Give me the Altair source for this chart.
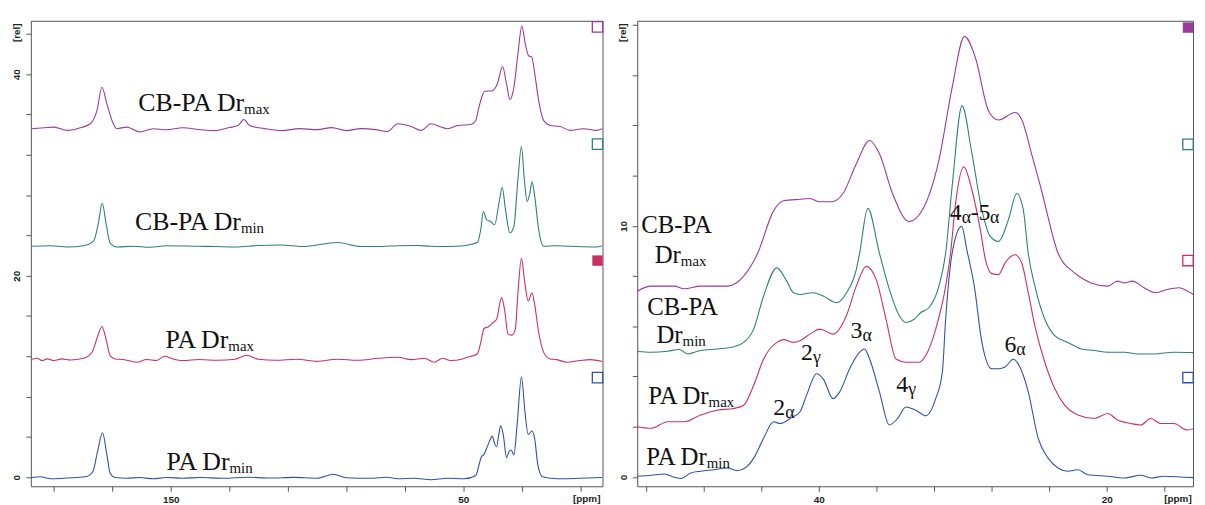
import altair as alt
import pandas as pd

SERIES = ["CB-PA Drmax", "CB-PA Drmin", "PA Drmax", "PA Drmin"]
COLORS = ["#9b3a9b", "#2f8078", "#cc3060", "#2f52a8"]

# ---------------- left panel (full spectrum) : (ppm, intensity) ----------------
LEFT_CBPA_MAX = [
    (197.6, 34.59), (193.3, 34.68), (189.9, 34.75), (185.4, 34.42), (180.9, 34.68), (177.5, 35.08),
    (175.2, 36.39), (173.5, 38.70), (171.8, 37.05), (169.6, 35.08), (168.4, 34.59), (165.0, 34.75),
    (160.5, 34.26), (156.0, 34.59), (151.5, 34.49), (145.8, 34.68), (140.2, 34.49), (135, 34.4),
    (130, 34.7), (127, 34.9), (125, 35.5), (123, 34.9), (118, 34.6), (112, 34.4), (106, 34.6),
    (100, 34.5), (95, 34.7), (90, 34.4), (85, 34.6), (80, 34.5), (76, 34.3), (72.3, 35.08),
    (67.8, 34.81), (64.4, 34.42), (61.0, 35.08), (57.6, 34.75), (55.3, 34.59), (51.9, 34.91),
    (47.4, 35.01), (45.7, 35.40), (45.15, 36.07), (44.03, 37.38), (42.67, 38.30), (40.06, 38.36),
    (38.36, 39.03), (36.56, 40.77), (35.20, 39.03), (34.05, 37.48), (32.69, 38.70), (31.33, 41.98),
    (29.98, 44.77), (28.76, 42.97), (27.60, 41.81), (26.58, 41.72), (25.70, 40.34), (24.21, 37.38),
    (22.51, 35.40), (20.27, 34.91), (16.88, 34.81), (13.49, 34.42), (8.94, 34.59), (4.43, 34.42),
    (2.5, 34.59),
]
LEFT_CBPA_MIN = [
    (197.6, 22.92), (191.1, 22.98), (185.4, 22.85), (179.8, 22.98), (176.4, 23.41), (174.7, 25.22),
    (173.4, 27.19), (172.1, 25.22), (170.7, 23.25), (168.4, 22.85), (162.8, 22.92), (157.1, 22.82),
    (151.5, 22.98), (140.2, 22.92), (135, 22.9), (128, 22.85), (120, 23.0), (112, 23.05), (105, 22.9),
    (93, 23.3), (85, 22.9), (78, 22.9), (72.3, 22.98), (66, 23.0), (61.0, 22.92), (55, 22.9),
    (49.7, 22.98), (45.15, 23.31), (44.03, 24.55), (43.12, 26.37), (41.99, 25.54), (40.63, 25.38),
    (39.28, 25.05), (37.80, 27.19), (36.67, 28.74), (35.55, 26.54), (34.05, 24.24), (32.69, 24.90),
    (31.33, 29.48), (30.11, 32.83), (29.09, 29.48), (28.17, 27.35), (27.25, 28.17), (26.47, 29.32),
    (25.56, 27.84), (24.21, 24.55), (22.51, 22.92), (19.12, 22.98), (13.49, 22.92), (4.43, 22.85),
    (2.5, 22.98),
]
LEFT_PA_MAX = [
    (197.6, 11.68), (195.6, 11.80), (193.9, 11.58), (192.2, 11.74), (189.9, 11.58), (187.1, 11.74),
    (184.3, 11.64), (179.8, 11.80), (176.9, 12.40), (174.9, 14.04), (173.5, 14.96), (172.1, 13.71),
    (170.7, 12.07), (169.0, 11.74), (166.2, 11.68), (161.6, 11.41), (158.2, 11.68), (154.9, 11.58),
    (152.0, 12.00), (149.2, 11.74), (145.8, 11.58), (140.2, 11.68), (134, 11.6), (128, 11.7),
    (124, 12.1), (120, 11.7), (114, 11.6), (107, 11.7), (100, 11.5), (93, 11.7), (86, 11.6),
    (79, 11.8), (72.3, 11.90), (67.8, 11.67), (63.3, 11.80), (59.9, 11.41), (57.1, 11.80),
    (54.3, 11.58), (50.3, 11.74), (48.6, 11.90), (45.2, 12.23), (44.0, 13.38), (42.9, 14.76),
    (41.2, 14.96), (39.8, 15.35), (38.6, 15.68), (36.9, 17.82), (35.9, 16.67), (34.7, 14.20),
    (33.3, 14.10), (32.2, 14.69), (31.3, 18.31), (30.1, 21.76), (29.1, 19.62), (27.8, 17.49),
    (26.5, 18.31), (25.7, 17.32), (24.2, 14.36), (22.5, 12.39), (20.3, 11.74), (18.0, 11.67),
    (14.6, 11.41), (10.1, 11.58), (6.7, 11.67), (2.5, 11.48),
]
LEFT_PA_MIN = [
    (197.6, -0.03), (194.5, 0.04), (191.1, -0.16), (186.6, -0.10), (182.1, -0.03), (178.7, 0.07),
    (176.6, 0.56), (175.0, 2.53), (173.3, 4.41), (171.8, 2.21), (170.7, 0.39), (169.0, -0.03),
    (165.0, -0.10), (160.5, -0.03), (156.0, -0.16), (151.5, -0.03), (145.8, -0.10), (140.2, -0.03),
    (132, -0.1), (124, 0.0), (116, -0.08), (108, -0.02), (100, -0.1), (94.4, 0.3), (90, -0.05),
    (82, -0.1), (76, 0.0), (72.3, -0.16), (66.7, -0.10), (61.0, -0.26), (55.4, -0.10), (49.7, -0.16),
    (45.7, 0.17), (44.6, 1.22), (43.8, 2.04), (42.9, 2.27), (41.8, 3.03), (40.6, 3.85), (40.1, 4.08),
    (39.3, 3.35), (38.6, 3.03), (37.8, 4.34), (37.2, 5.10), (36.3, 4.18), (35.2, 1.94), (34.4, 2.53),
    (33.6, 2.70), (32.7, 2.20), (31.6, 5.16), (30.1, 9.93), (28.9, 6.48), (27.8, 4.24), (26.5, 4.58),
    (25.6, 3.85), (24.5, 1.22), (23.0, 0.07), (20.3, -0.10), (15.7, -0.16), (10.1, -0.10), (2.5, -0.03),
]

# ---------------- right panel (aliphatic region) ----------------
RIGHT_CBPA_MAX = [
    (52.62, 7.4), (51.66, 7.6), (50.05, 7.6), (49.36, 7.5), (48.21, 7.6), (46.37, 7.6), (45.22, 8.0),
    (44.26, 8.9), (43.15, 10.6), (42.46, 11.0), (41.31, 11.06), (40.62, 11.09), (39.93, 10.96),
    (39.12, 10.96), (38.32, 11.29), (37.40, 12.47), (36.48, 13.40), (35.79, 12.87), (34.88, 11.29),
    (33.73, 10.17), (32.81, 10.63), (31.66, 12.61), (30.74, 15.51), (29.88, 17.55), (29.12, 16.70),
    (28.21, 14.58), (27.52, 14.22), (26.37, 14.52), (25.91, 14.25), (25.22, 12.87), (24.53, 11.42),
    (23.61, 9.32), (23.38, 8.91), (22.23, 8.13), (21.08, 7.73), (19.93, 7.60), (19.24, 7.80),
    (18.78, 7.73), (18.21, 7.80), (17.40, 7.54), (16.60, 7.34), (15.79, 7.47), (14.99, 7.54),
    (14.18, 7.34), (13.39, 7.01),
]
RIGHT_CBPA_MIN = [
    (52.62, 5.00), (51.66, 4.97), (50.50, 5.01), (49.70, 5.08), (49.12, 4.90), (48.21, 5.04),
    (47.06, 5.10), (45.91, 5.19), (45.22, 5.36), (44.53, 5.89), (43.84, 7.21), (42.92, 8.33),
    (42.23, 7.80), (41.77, 7.34), (41.31, 7.27), (40.39, 7.34), (39.70, 7.21), (38.77, 6.94),
    (38.08, 7.34), (37.40, 8.26), (37.17, 8.91), (36.60, 10.70), (35.79, 8.91), (35.10, 7.47),
    (34.41, 6.42), (33.95, 6.15), (33.38, 6.28), (32.92, 6.55), (32.34, 6.75), (31.66, 7.60),
    (31.19, 8.91), (30.74, 11.56), (30.05, 14.78), (29.36, 12.87), (28.67, 10.63), (28.09, 9.58),
    (27.52, 9.38), (26.83, 10.24), (26.25, 11.29), (25.79, 10.63), (25.45, 8.91), (24.99, 7.60),
    (24.30, 6.28), (23.61, 5.63), (22.69, 5.36), (21.77, 5.10), (20.86, 5.04), (19.93, 4.97),
    (18.78, 4.97), (17.86, 4.90), (16.71, 4.90), (15.34, 4.97), (13.39, 4.94),
]
RIGHT_PA_MAX = [
    (52.62, 2.00), (51.66, 1.94), (50.50, 2.20), (49.36, 2.20), (48.21, 2.47), (47.06, 2.66),
    (45.91, 2.73), (45.22, 2.86), (44.53, 3.65), (43.84, 4.70), (42.92, 5.36), (42.46, 5.47),
    (41.77, 5.36), (41.31, 5.43), (40.62, 5.69), (39.93, 5.89), (39.01, 5.69), (38.09, 6.42),
    (37.40, 7.60), (36.71, 8.39), (36.02, 7.87), (35.33, 6.28), (34.64, 4.70), (33.95, 4.57),
    (33.04, 4.57), (32.57, 4.84), (31.88, 5.89), (31.19, 7.60), (30.85, 8.91), (30.50, 10.90),
    (29.93, 12.35), (29.36, 11.42), (28.78, 9.84), (28.44, 8.70), (27.98, 8.10), (27.52, 8.06),
    (27.06, 8.53), (26.37, 8.85), (25.91, 8.53), (25.45, 7.34), (24.99, 6.02), (24.30, 4.57),
    (23.61, 3.52), (22.92, 2.86), (22.00, 2.47), (20.86, 2.33), (19.93, 2.53), (19.24, 2.27),
    (18.32, 2.13), (17.63, 2.07), (16.94, 2.33), (16.25, 2.13), (15.33, 2.13), (14.41, 1.87),
    (13.39, 2.07),
]
RIGHT_PA_MIN = [
    (52.62, 0.03), (51.66, 0.07), (50.74, 0.12), (50.05, -0.01), (49.59, -0.06), (48.90, 0.16),
    (48.21, 0.23), (47.29, 0.29), (46.37, 0.36), (45.68, 0.25), (44.99, 0.42), (44.53, 0.75),
    (43.84, 1.54), (43.15, 2.20), (42.69, 2.13), (42.00, 2.33), (41.31, 2.60), (40.85, 3.26),
    (40.16, 4.11), (39.70, 3.91), (39.01, 3.12), (38.55, 3.39), (37.86, 4.31), (37.17, 4.97),
    (36.83, 5.10), (36.48, 4.71), (35.79, 3.39), (35.10, 2.07), (34.53, 2.33), (33.95, 2.79),
    (33.26, 2.66), (32.57, 2.44), (31.88, 3.12), (31.42, 4.18), (31.19, 6.28), (30.74, 8.91),
    (30.08, 9.98), (29.70, 9.00), (29.20, 7.60), (28.67, 5.36), (27.98, 4.31), (27.52, 4.31),
    (27.06, 4.38), (26.49, 4.69), (26.03, 4.38), (25.45, 3.39), (24.76, 1.54), (24.07, 0.75),
    (23.38, 0.36), (22.69, 0.23), (22.00, 0.29), (21.31, 0.09), (19.93, 0.03), (18.78, -0.04),
    (17.63, 0.07), (16.94, -0.04), (16.02, 0.03), (14.64, -0.01), (13.39, -0.04),
]

# spectrum-legend squares at the right edge: (series, ppm, intensity, filled)
LEFT_SQUARES = [("CB-PA Drmax", 4.1, 44.7, False), ("CB-PA Drmin", 4.1, 33.06, False),
                ("PA Drmax", 4.1, 21.5, True), ("PA Drmin", 4.1, 9.88, False)]
RIGHT_SQUARES = [("CB-PA Drmax", 14.35, 17.9, True), ("CB-PA Drmin", 14.35, 13.25, False),
                 ("PA Drmax", 14.35, 8.62, False), ("PA Drmin", 14.35, 3.96, False)]

# annotations (text, ppm, intensity)
LEFT_MAIN = [("CB-PA Dr", 124.9, 36.36), ("CB-PA Dr", 126.0, 24.56),
             ("PA Dr", 130.3, 12.79), ("PA Dr", 129.9, 0.76)]
LEFT_SUB = [("max", 124.9, 36.36), ("min", 126.0, 24.56),
            ("max", 130.3, 12.79), ("min", 129.9, 0.76)]
RIGHT_MAIN_LEFTALIGN = [("CB-PA", 52.34, 9.71), ("CB-PA", 51.93, 6.46)]
RIGHT_MAIN_RIGHTALIGN = [("Dr", 49.59, 8.53), ("Dr", 49.47, 5.34),
                         ("PA Dr", 47.66, 2.92), ("PA Dr", 47.79, 0.49)]
RIGHT_SUB = [("max", 49.59, 8.53), ("min", 49.47, 5.34),
             ("max", 47.66, 2.92), ("min", 47.79, 0.49)]
PEAK_MAIN_RIGHTALIGN = [("2", 42.34, 2.47), ("2", 40.41, 4.65), ("3", 36.97, 5.52),
                        ("4", 33.79, 3.39), ("4", 30.07, 10.23), ("6", 26.28, 4.97)]
PEAK_MAIN_LEFTALIGN = [("-5", 29.45, 10.23)]
PEAK_SUB = [("α", 42.34, 2.47), ("γ", 40.41, 4.65), ("α", 36.97, 5.52), ("γ", 33.79, 3.39),
            ("α", 30.07, 10.23), ("α", 28.10, 10.23), ("α", 26.28, 4.97)]

LEFT_XTICKS = list(range(10, 200, 10))
LEFT_YTICKS = list(range(0, 46, 2))
RIGHT_XTICKS = list(range(16, 54, 2))
RIGHT_YTICKS = list(range(0, 19, 1))

SERIF = "Liberation Serif"
SANS = "Liberation Sans"


def spectra_frame(lists):
    rows = []
    for name, pts in zip(SERIES, lists):
        for p, v in pts:
            rows.append({"series": name, "ppm": p, "value": v})
    return pd.DataFrame(rows)


def text_frame(items):
    return pd.DataFrame([{"t": t, "ppm": p, "value": v} for t, p, v in items])


def panel(spec_lists, squares, xdom, ydom, xticks, yticks, xlab_expr, ylab_expr,
          ppm_label_x, width, height, texts):
    xscale = alt.Scale(domain=xdom, reverse=True, nice=False, zero=False)
    yscale = alt.Scale(domain=ydom, nice=False, zero=False)
    x = alt.X("ppm:Q", scale=xscale,
              axis=alt.Axis(values=xticks, labelExpr=xlab_expr, title=None, grid=False,
                            domain=False, tickSize=5, tickColor="#555", labelPadding=3,
                            labelFont=SANS, labelFontWeight="bold", labelFontSize=10,
                            labelColor="#222"))
    y = alt.Y("value:Q", scale=yscale,
              axis=alt.Axis(values=yticks, labelExpr=ylab_expr, title=None, grid=False,
                            domain=False, tickSize=5, tickColor="#555", labelPadding=4,
                            labelAngle=270, labelAlign="center", labelBaseline="bottom",
                            labelFont=SANS, labelFontWeight="bold",
                            labelFontSize=10, labelColor="#222"))
    color = alt.Color("series:N", scale=alt.Scale(domain=SERIES, range=COLORS), legend=None)

    lines = alt.Chart(spectra_frame(spec_lists)).mark_line(
        strokeWidth=1.1, interpolate="monotone", clip=True
    ).encode(x=x, y=y, color=color, detail="series:N")

    sq = pd.DataFrame([{"series": s, "ppm": p, "value": v, "filled": f} for s, p, v, f in squares])
    sq_open = alt.Chart(sq[~sq["filled"]]).mark_point(
        shape="square", size=110, filled=False, strokeWidth=1.3, opacity=1
    ).encode(x="ppm:Q", y="value:Q", color=color)
    sq_fill = alt.Chart(sq[sq["filled"]]).mark_point(
        shape="square", size=110, filled=True, opacity=1
    ).encode(x="ppm:Q", y="value:Q", color=color)

    ppm_lbl = alt.Chart(pd.DataFrame({"ppm": [ppm_label_x], "t": ["[ppm]"]})).mark_text(
        font=SANS, fontWeight="bold", fontSize=10, baseline="middle", color="#222"
    ).encode(x="ppm:Q", y=alt.value(height + 13), text="t:N")

    rel_lbl = alt.Chart(pd.DataFrame({"t": ["[rel]"]})).mark_text(
        font=SANS, fontWeight="bold", fontSize=10, baseline="middle", align="center",
        angle=270, color="#222"
    ).encode(x=alt.value(-14), y=alt.value(12), text="t:N")

    layers = [lines, sq_open, sq_fill, ppm_lbl, rel_lbl]
    for items, align, size, dy in texts:
        layers.append(
            alt.Chart(text_frame(items)).mark_text(
                align=align, baseline="alphabetic", font=SERIF, fontSize=size,
                color="#111", dy=dy
            ).encode(x="ppm:Q", y="value:Q", text="t:N")
        )
    return alt.layer(*layers).properties(width=width, height=height)


left = panel(
    [LEFT_CBPA_MAX, LEFT_CBPA_MIN, LEFT_PA_MAX, LEFT_PA_MIN], LEFT_SQUARES,
    [2.4, 197.8], [-0.9, 45.3], LEFT_XTICKS, LEFT_YTICKS,
    "datum.value % 50 == 0 ? datum.label : ''",
    "datum.value % 10 == 0 ? datum.label : ''",
    7.8, 576, 469,
    [(LEFT_MAIN, "right", 26, 0), (LEFT_SUB, "left", 15, 3)],
)

right = panel(
    [RIGHT_CBPA_MAX, RIGHT_CBPA_MIN, RIGHT_PA_MAX, RIGHT_PA_MIN], RIGHT_SQUARES,
    [14.0, 52.62], [-0.37, 18.17], RIGHT_XTICKS, RIGHT_YTICKS,
    "datum.value % 10 == 0 ? datum.label : ''",
    "datum.value % 5 == 0 ? datum.label : ''",
    15.05, 560, 469,
    [(RIGHT_MAIN_LEFTALIGN, "left", 25, 0), (RIGHT_MAIN_RIGHTALIGN, "right", 25, 0),
     (RIGHT_SUB, "left", 15, 3), (PEAK_MAIN_RIGHTALIGN, "right", 24, 0),
     (PEAK_MAIN_LEFTALIGN, "left", 24, 0), (PEAK_SUB, "left", 18, 3)],
)

chart = alt.hconcat(left, right, spacing=11).properties(
    padding={"left": 3, "top": 8, "right": 0, "bottom": 0},
    background="white",
).configure_view(stroke="#555", strokeWidth=1)

chart.save("out.html", embed_options={"renderer": "svg", "actions": False})
